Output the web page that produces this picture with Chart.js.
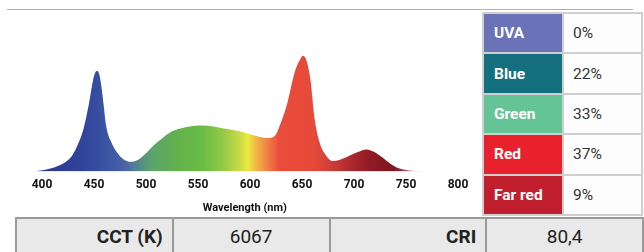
<!DOCTYPE html>
<html>
<head>
<meta charset="utf-8">
<script src="https://cdn.jsdelivr.net/npm/chart.js@4"></script>
<style>
  body { margin: 0; width: 644px; height: 252px; background: #fff; position: relative; overflow: hidden; font-family: Roboto, "Noto Sans", sans-serif; }
  #topline { position: absolute; left: 7px; top: 9px; width: 626px; height: 1px; background: #b0b0b0; }
  #chartbox { position: absolute; left: 0; top: 0; width: 475px; height: 216px; }
  #bands { position: absolute; left: 482px; top: 12px; width: 161px; border-collapse: collapse; table-layout: fixed; }
  #bands td { border: 2px solid #cfcfcf; height: 38.4px; padding: 0; font-size: 15.5px; }
  #bands td.name { width: 68px; padding-left: 10px; color: #fff; font-weight: bold; }
  #bands td.val { padding-left: 9px; color: #333; background: #fdfdfd; }
  #stats { position: absolute; left: 15px; top: 217px; width: 629px; border-collapse: collapse; table-layout: fixed; }
  #stats td { background: #e9e9e9; border: 2px solid #9a9a9a; height: 34px; padding: 0 9px; font-size: 19px; color: #222; }
  #stats td.k { text-align: right; font-weight: bold; }
  #stats td.v { text-align: center; }
</style>
</head>
<body>
<div id="topline"></div>
<div id="chartbox"><canvas id="spectrum"></canvas></div>
<table id="bands"></table>
<table id="stats"></table>
<script>
// spectrum (relative intensity)
const wavelengths = [393, 408, 420, 428, 434, 440, 445, 449, 451, 453, 455, 457, 459, 462, 466, 472, 478, 485, 492, 500,
  508, 516, 525, 533, 545, 555, 565, 575, 590, 600, 610, 616, 621, 625, 630, 636, 643, 648, 651, 654,
  658, 662, 667, 673, 679, 686, 693, 703, 712, 720, 728, 735, 741, 750, 760, 778];
const intensity = [0, 3, 8, 15, 27, 45, 70, 95, 103, 105, 102, 90, 72, 46, 32, 20, 13, 10, 12, 19,
  28, 35, 42, 45, 47.5, 48, 47, 45, 42, 39, 36, 35, 35.5, 39, 52, 72, 104, 117, 121, 117,
  97, 56, 30, 17, 11, 12, 15, 20, 23, 20, 14, 8, 4, 1.5, 0.5, 0];
const wavelengthTicks = [400, 450, 500, 550, 600, 650, 700, 750, 800];

const bandNames = ["UVA", "Blue", "Green", "Red", "Far red"];
const bandShares = ["0%", "22%", "33%", "37%", "9%"];
const bandColors = ["#6a72b8", "#14707f", "#64c496", "#e8212d", "#c11f2d"];

const statLabels = ["CCT (K)", "CRI"];
const statValues = ["6067", "80,4"];

// colour stops of the spectrum fill
const fillStops = [
  [395, "#2a3a8e"], [440, "#30449b"], [465, "#3c57a6"], [480, "#4a64a6"], [492, "#54868e"],
  [505, "#5ca36c"], [530, "#62b14d"], [555, "#6bbd45"], [575, "#96c947"], [590, "#c9db44"],
  [598, "#ece840"], [608, "#f0ac45"], [618, "#ef7a44"], [628, "#ea4c3b"], [660, "#e84a3a"],
  [675, "#d3403a"], [695, "#b02b30"], [715, "#911b25"], [738, "#7f1520"], [760, "#b0707e"], [780, "#e8d8dc"]
];

const bandTable = document.getElementById("bands");
bandNames.forEach((n, i) => {
  const tr = document.createElement("tr");
  tr.innerHTML = `<td class="name" style="background:${bandColors[i]}">${n}</td><td class="val">${bandShares[i]}</td>`;
  bandTable.appendChild(tr);
});

const statsRow = document.createElement("tr");
statLabels.forEach((l, i) => {
  statsRow.innerHTML += `<td class="k">${l}</td><td class="v">${statValues[i]}</td>`;
});
document.getElementById("stats").appendChild(statsRow);

function spectrumFill(context) {
  const chart = context.chart;
  if (!chart.chartArea) return "#6bbd45";
  const xs = chart.scales.x;
  const x0 = xs.getPixelForValue(390);
  const x1 = xs.getPixelForValue(800);
  const g = chart.ctx.createLinearGradient(x0, 0, x1, 0);
  fillStops.forEach(([w, c]) => g.addColorStop((w - 390) / 410, c));
  return g;
}

new Chart(document.getElementById("spectrum"), {
  type: "line",
  data: {
    datasets: [{
      data: wavelengths.map((w, i) => ({ x: w, y: intensity[i] })),
      fill: "origin",
      backgroundColor: spectrumFill,
      borderWidth: 0,
      borderColor: "rgba(0,0,0,0)",
      pointRadius: 0,
      cubicInterpolationMode: "monotone"
    }]
  },
  options: {
    responsive: true,
    maintainAspectRatio: false,
    animation: false,
    layout: { padding: { left: 31.6, right: 17, top: 52, bottom: 0 } },
    plugins: { legend: { display: false }, tooltip: { enabled: false } },
    scales: {
      x: {
        type: "linear",
        min: 390,
        max: 800,
        afterBuildTicks: (axis) => { axis.ticks = wavelengthTicks.map((v) => ({ value: v })); },
        grid: { display: false, drawTicks: false },
        border: { display: false },
        ticks: { padding: 6, maxRotation: 0, autoSkip: false, color: "#111", font: { family: "Roboto", size: 12, weight: "bold" } },
        title: { display: true, text: "Wavelength (nm)", color: "#111", padding: { top: 4, bottom: 1 }, font: { family: "Roboto", size: 11, weight: "bold" } }
      },
      y: { display: false, min: 0, max: 125 }
    }
  }
});
</script>
</body>
</html>
